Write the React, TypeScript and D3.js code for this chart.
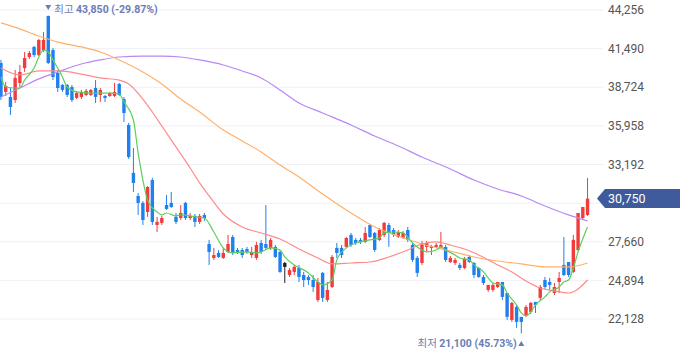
import React from 'react'
import * as d3 from 'd3'

// [open, high, low, close]
const ohlc: [number, number, number, number][] = [
  [40460, 40680, 37810, 38030], [38390, 39100, 38100, 38810], [38030, 38670, 36740, 37310], [37810, 39960, 37600, 39390],
  [39030, 40320, 38740, 39820], [40100, 41250, 39820, 40820], [40890, 41320, 40750, 41180], [41610, 41680, 40890, 41030],
  [41030, 42180, 40960, 42110], [41390, 42680, 41250, 42110], [43830, 43850, 40390, 40460], [41390, 41540, 39240, 39460],
  [39750, 39960, 38390, 38670], [38890, 38960, 38390, 38530], [38890, 38960, 38030, 38170], [38740, 38890, 37670, 37810],
  [37960, 38460, 37880, 38310], [38030, 38530, 37880, 38390], [38170, 38600, 38100, 38460], [38170, 38600, 38100, 38530],
  [38670, 39240, 37600, 38030], [38170, 38670, 37670, 38530], [38100, 38170, 37670, 37960], [38100, 38390, 38030, 38310],
  [38100, 39030, 38030, 38390], [38960, 39030, 38100, 38170], [37880, 38030, 36240, 36880], [36020, 36170, 33590, 33730],
  [32590, 34380, 31230, 31870], [30940, 31150, 29580, 30440], [30440, 30580, 28860, 29220], [29790, 31650, 29440, 31580],
  [32080, 32230, 28860, 29080], [28860, 29440, 28360, 29080], [29010, 29510, 28860, 29360], [30290, 31010, 29940, 30010],
  [30440, 31230, 30080, 30150], [29440, 29720, 28930, 29080], [29360, 30290, 29220, 29720], [30440, 30510, 29220, 29360],
  [29360, 29720, 29220, 29510], [29510, 29650, 28720, 29080], [29080, 29650, 28930, 29510], [29580, 29720, 29150, 29360],
  [27500, 27790, 26000, 26930], [26500, 27220, 26360, 26710], [26860, 27070, 26500, 26570], [26500, 27220, 26430, 26860],
  [26930, 28150, 26860, 27500], [28000, 28150, 26710, 26860], [27070, 27220, 26790, 26930], [27070, 27220, 26500, 26710],
  [27140, 27290, 26790, 26930], [26710, 27290, 26500, 26930], [26500, 27650, 26360, 27430], [27570, 27790, 26790, 26930],
  [27500, 30290, 27070, 27220], [27220, 27930, 27070, 27790], [27290, 27430, 26500, 26570], [26930, 27070, 25430, 25500],
  [26140, 26210, 24710, 25860], [25280, 25780, 25140, 25640], [25500, 26000, 25280, 25860], [25780, 26000, 24780, 25140],
  [25280, 25500, 24420, 24920], [25140, 25280, 24570, 24920], [24920, 25280, 24070, 24420], [23490, 25070, 23350, 24780],
  [25430, 25500, 23350, 23640], [23490, 24780, 23350, 24210], [24420, 26710, 24350, 26570], [27220, 27570, 26500, 26860],
  [27220, 27430, 26500, 26710], [27290, 28000, 27220, 27930], [28150, 28290, 27290, 27430], [27790, 27930, 27430, 27570],
  [27790, 27930, 27500, 27650], [27650, 28720, 27570, 28290], [28860, 28860, 27930, 28000], [28290, 28360, 26930, 27070],
  [27790, 28650, 27720, 28500], [28150, 29080, 28000, 29010], [28860, 29010, 27290, 28290], [28500, 28650, 28000, 28150],
  [28000, 28500, 27930, 28360], [27930, 28430, 27860, 28290], [28500, 28720, 27650, 27790], [27430, 27570, 26210, 26360],
  [26500, 26640, 25140, 25430], [26140, 27720, 26000, 27570], [27290, 27720, 26930, 27570], [27220, 27430, 26710, 27360],
  [27290, 27570, 27220, 27430], [27290, 28360, 27220, 27430], [27290, 27430, 26210, 26360], [26210, 26640, 26140, 26500],
  [26140, 26500, 26000, 26360], [26000, 26140, 25640, 25780], [25780, 26570, 25710, 26430], [26570, 26710, 26140, 26210],
  [26140, 26210, 25070, 25280], [25780, 25860, 25070, 25140], [25140, 25280, 24570, 24710], [24210, 24570, 24070, 24570],
  [24210, 24710, 24070, 24570], [24420, 24780, 24350, 24780], [24780, 24780, 23490, 23710], [23990, 23990, 22060, 22280],
  [22060, 23350, 21920, 23280], [22990, 23130, 21490, 21920], [22280, 22280, 21100, 21920], [22420, 23130, 22280, 22990],
  [22630, 23350, 22490, 23280], [23350, 23350, 22560, 23130], [23640, 24570, 23490, 24420], [24920, 25140, 24280, 24420],
  [24780, 25070, 24210, 24570], [23990, 24710, 23850, 24420], [24780, 25500, 23990, 25070], [26000, 28000, 25210, 25280],
  [26210, 26210, 25140, 25280], [25500, 28150, 25430, 27790], [27070, 29720, 27000, 29720], [29360, 30150, 29290, 30150],
  [29580, 32230, 29510, 30750],
]

// days drawn in black
const flatDays = [60]

const yTicks = [44256, 41490, 38724, 35958, 33192, 30426, 27660, 24894, 22128]

// moving averages, [day index, price]
const ma5: [number, number][] = [
  [0, 39460], [1, 38740], [3, 38670], [4, 38670], [5, 39240], [7, 40100], [8, 40890], [9, 41390], [10, 41250],
  [11, 40680], [13, 39460], [14, 38740], [16, 38390], [19, 38310], [23, 38310], [25, 38240], [26, 37670], [28, 36380],
  [29, 34020], [30, 32080], [31, 30650], [33, 29790], [34, 29580], [35, 29720], [37, 29510], [38, 29580], [40, 29510],
  [41, 29440], [43, 29360], [45, 28360], [47, 27220], [49, 26860], [52, 26930], [54, 26860], [55, 26930], [57, 27220],
  [59, 27070], [60, 26570], [62, 26000], [65, 25430], [67, 24780], [68, 24570], [70, 24920], [71, 26360], [73, 27220],
  [75, 27570], [76, 27650], [78, 27790], [80, 27930], [81, 28290], [83, 28360], [85, 28290], [87, 27570], [89, 27070],
  [90, 26930], [92, 27070], [93, 27290], [94, 27070], [96, 26710], [97, 26500], [99, 26360], [100, 26000], [102, 25500],
  [103, 25070], [104, 24710], [106, 24570], [107, 23990], [109, 23130], [110, 22560], [111, 22350], [112, 22630],
  [113, 23130], [115, 23710], [116, 24070], [118, 24420], [119, 24780], [120, 24920], [121, 25780], [122, 26930], [124, 28720],
]
const ma20: [number, number][] = [
  [0, 40100], [4, 39600], [8, 39890], [12, 39890], [17, 39670], [21, 39390], [25, 39240], [27, 38960], [30, 37880],
  [32, 36950], [34, 35950], [36, 34950], [38, 33950], [40, 32940], [42, 31870], [44, 30940], [47, 29650], [51, 28720],
  [55, 28290], [59, 27860], [63, 27140], [67, 26500], [70, 26070], [74, 26140], [78, 26210], [82, 26570], [86, 27070],
  [89, 27500], [92, 27650], [95, 27430], [98, 27140], [101, 26710], [105, 26000], [108, 25500], [111, 24850],
  [114, 24350], [117, 24140], [120, 23990], [122, 24280], [124, 24920],
]
const ma60: [number, number][] = [
  [0, 43330], [4, 42900], [8, 42390], [12, 41960], [17, 41610], [21, 41250], [25, 40680], [30, 39820], [34, 38960],
  [38, 37880], [42, 36950], [47, 35660], [51, 34880], [55, 34090], [59, 33160], [63, 32300], [68, 31080], [74, 29720],
  [79, 28720], [84, 28070], [89, 27500], [95, 27000], [100, 26570], [105, 26280], [110, 26070], [115, 25860],
  [120, 25860], [124, 26140],
]
const ma120: [number, number][] = [
  [0, 38030], [4, 38670], [8, 39320], [12, 39820], [17, 40390], [21, 40680], [25, 40890], [30, 40960], [34, 40960],
  [38, 40890], [42, 40680], [47, 40320], [51, 39890], [55, 39390], [59, 38530], [63, 37600], [68, 36880], [74, 36020],
  [79, 35230], [84, 34520], [89, 33730], [95, 32870], [100, 32080], [105, 31440], [110, 30940], [115, 30220],
  [120, 29580], [124, 29150],
]

const W = 680
const H = 358
const UP = '#f03c3c'
const DOWN = '#1f80ef'
const LABEL = '#6b7cb4'
const fmt = d3.format(',')
const pct = (v: number) => d3.format('.2f')(v).replace('\u2212', '-')

export default function App() {
  const x = d3.scaleBand<number>().domain(d3.range(ohlc.length)).range([-1.4, 589.9])
  const y = d3.scaleLinear().domain([22128, 44256]).range([319, 10])
  const cx = (i: number) => (x(i) ?? 0) + x.bandwidth() / 2
  const bodyW = 3.4

  const line = d3.line<[number, number]>()
    .x(d => cx(d[0]))
    .y(d => y(d[1]))
    .curve(d3.curveMonotoneX)

  const highs = ohlc.map(d => d[1])
  const lows = ohlc.map(d => d[2])
  const maxI = d3.maxIndex(highs)
  const minI = d3.minIndex(lows)
  const last = ohlc[ohlc.length - 1][3]
  const maxPct = (last / highs[maxI] - 1) * 100
  const minPct = (last / lows[minI] - 1) * 100
  const yLast = y(last)

  // tick labels hidden under the price badge
  const shownTicks = yTicks.filter(t => Math.abs(y(t) - yLast) > 10)

  const kr = "'Noto Sans CJK KR', sans-serif"
  const num = 'Roboto, sans-serif'

  return (
    <svg width={W} height={H} style={{ position: 'absolute', left: 0, top: 0, background: '#fff' }}>
      {/* grid */}
      {yTicks.map(t => (
        <line key={t} x1={0} x2={603} y1={y(t)} y2={y(t)} stroke='#eff0f6' strokeWidth={1} />
      ))}

      {/* candles */}
      {ohlc.map((d, i) => {
        const [o, h, l, c] = d
        const col = flatDays.includes(i) ? '#222' : c >= o ? UP : DOWN
        const top = y(Math.max(o, c))
        const bh = Math.max(1, Math.abs(y(o) - y(c)))
        return (
          <g key={i}>
            <line x1={cx(i)} x2={cx(i)} y1={y(h)} y2={y(l)} stroke={col} strokeWidth={1} />
            <rect x={cx(i) - bodyW / 2} y={top} width={bodyW} height={bh} fill={col} />
          </g>
        )
      })}

      {/* moving averages */}
      <path d={line(ma120) ?? ''} fill='none' stroke='#b888f6' strokeWidth={1.2} />
      <path d={line(ma60) ?? ''} fill='none' stroke='#ffb06a' strokeWidth={1.2} />
      <path d={line(ma20) ?? ''} fill='none' stroke='#ff8a8a' strokeWidth={1.2} />
      <path d={line(ma5) ?? ''} fill='none' stroke='#5ccf5c' strokeWidth={1.2} />

      {/* y axis labels */}
      {shownTicks.map(t => (
        <text key={t} x={608} y={y(t)} dy='0.35em' fontSize={12} fontFamily={num} fill='#555'>
          {fmt(t)}
        </text>
      ))}

      {/* current price */}
      <path d={`M597,${yLast} L605,${yLast - 9.5} L680,${yLast - 9.5} L680,${yLast + 9.5} L605,${yLast + 9.5} Z`} fill='#3f5b9b' />
      <text x={608} y={yLast} dy='0.36em' fontSize={12.5} fontFamily={num} fill='#fff'>{fmt(last)}</text>

      {/* max label */}
      <path d={`M${cx(maxI) - 3},${5} L${cx(maxI) + 3},${5} L${cx(maxI)},${10} Z`} fill={LABEL} />
      <text x={cx(maxI) + 6} y={9} dy='0.35em' fontSize={10.5} fontFamily={kr} fill={LABEL}>
        최고 <tspan fontFamily={num} fontWeight='bold'>{fmt(highs[maxI])} ({pct(maxPct)}%)</tspan>
      </text>

      {/* min label */}
      <text x={cx(minI) - 4.5} y={343} dy='0.35em' textAnchor='end' fontSize={10.5} fontFamily={kr} fill={LABEL}>
        최저 <tspan fontFamily={num} fontWeight='bold'>{fmt(lows[minI])} ({pct(minPct)}%)</tspan>
      </text>
      <path d={`M${cx(minI) - 3},${346} L${cx(minI) + 3},${346} L${cx(minI)},${341} Z`} fill={LABEL} />
    </svg>
  )
}
